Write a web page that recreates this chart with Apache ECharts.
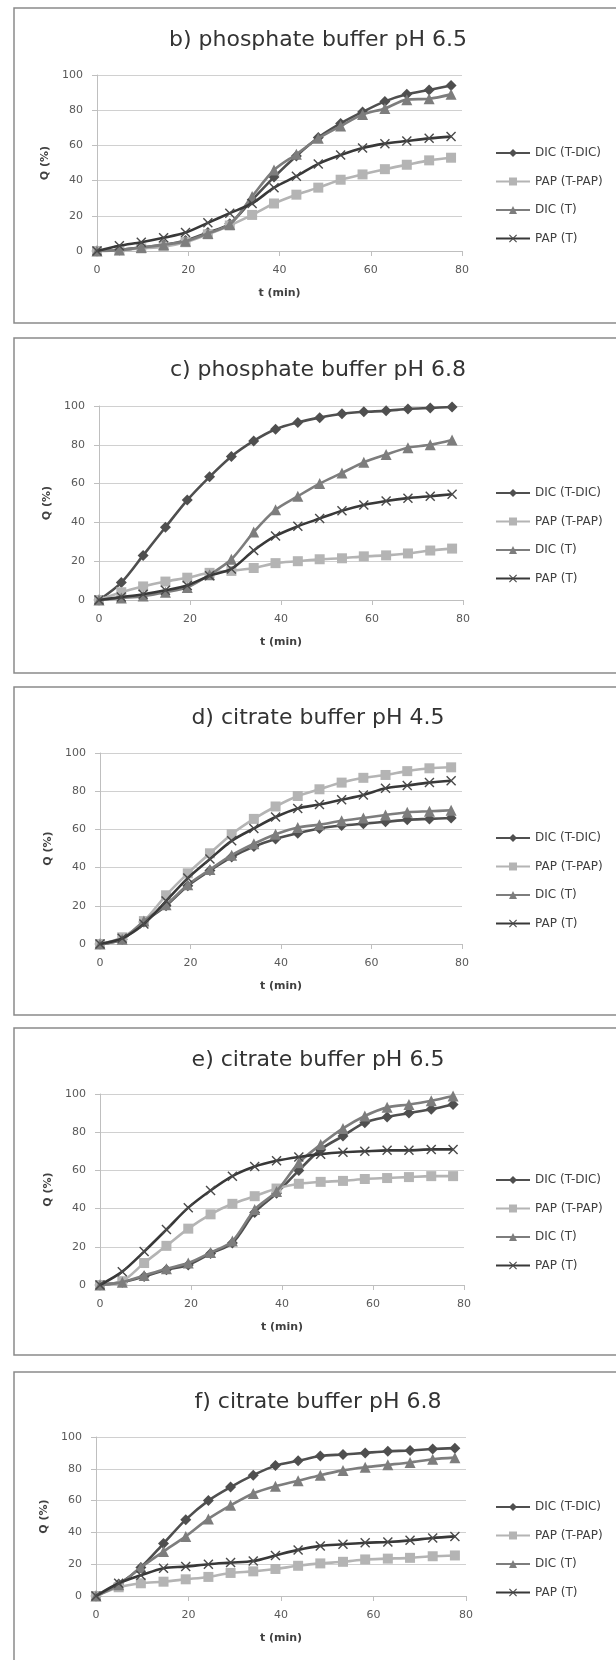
<!DOCTYPE html>
<html lang="en">
<head>
    <meta charset="UTF-8">
    <title>Dissolution profiles</title>
    <style>
        html, body { margin: 0; padding: 0; background: #fff; }
        #main { width: 616px; height: 1660px; }
    </style>
</head>
<body>

<div id="main"></div>

<script type="text/javascript" src="https://cdn.jsdelivr.net/npm/echarts@6/dist/echarts.min.js"></script>
<script type="text/javascript">

    // sampling times (min)
    var times = [0, 4.9, 9.7, 14.6, 19.4, 24.3, 29.1, 34, 38.8, 43.7, 48.5, 53.4, 58.2, 63.1, 67.9, 72.8, 77.6];

    var seriesNames = ['DIC (T-DIC)', 'PAP (T-PAP)', 'DIC (T)', 'PAP (T)'];
    var panelTitles = ['b) phosphate buffer pH 6.5', 'c) phosphate buffer pH 6.8', 'd) citrate buffer pH 4.5',
        'e) citrate buffer pH 6.5', 'f) citrate buffer pH 6.8'];
    var xTicks = [0, 20, 40, 60, 80];
    var yTicks = [0, 20, 40, 60, 80, 100];

    // b) phosphate buffer pH 6.5
    var bDicTDic = [0, 0.5, 2, 3.5, 6, 10.5, 15.5, 29, 42, 54, 64.5, 72.5, 79, 85, 89, 91.5, 94];
    var bPapTPap = [0, 0.5, 1.5, 2.5, 5, 9.5, 14.5, 20.5, 27, 32, 36, 40.5, 43.5, 46.5, 49, 51.5, 53];
    var bDicT    = [0, 0.5, 2, 3.5, 5.5, 10, 15, 31, 46, 55, 64, 71, 77.5, 81, 86, 86.5, 89];
    var bPapT    = [0, 3, 5, 7.5, 10.5, 16, 21.5, 27, 36, 42.5, 49.5, 54.5, 58.5, 61, 62.5, 64, 65];

    // c) phosphate buffer pH 6.8
    var cDicTDic = [0, 9, 23, 37.5, 51.5, 63.5, 74, 82, 88, 91.5, 94, 96, 97, 97.5, 98.5, 99, 99.5];
    var cPapTPap = [0, 4, 7, 9.5, 11.5, 14, 15, 16.5, 19, 20, 21, 21.5, 22.5, 23, 24, 25.5, 26.5];
    var cDicT    = [0, 1, 2, 4, 6.5, 13, 21, 35, 46.5, 53.5, 60, 65.5, 71, 75, 78.5, 80, 82.5];
    var cPapT    = [0, 1.5, 3, 5, 7.5, 12.5, 16, 25.5, 33, 38, 42, 46, 49, 51, 52.5, 53.5, 54.5];

    // d) citrate buffer pH 4.5
    var dDicTDic = [0, 2.5, 11.5, 20, 30.5, 38.5, 45.5, 51, 55, 58, 60.5, 62, 63, 64, 65, 65.5, 66];
    var dPapTPap = [0, 3.5, 12, 25.5, 37, 47.5, 57.5, 65.5, 72, 77.5, 81, 84.5, 87, 88.5, 90.5, 92, 92.5];
    var dDicT    = [0, 2.5, 12, 20.5, 31, 39, 46.5, 52.5, 57.5, 61, 62.5, 64.5, 66, 67.5, 69, 69.5, 70];
    var dPapT    = [0, 3, 10.5, 22.5, 34.5, 44.5, 54, 60.5, 66.5, 71, 73, 75.5, 78, 81.5, 83, 84.5, 85.5];

    // e) citrate buffer pH 6.5
    var eDicTDic = [0, 1.5, 4.5, 8, 10.5, 16.5, 22, 38, 48, 60, 71, 78, 85, 88, 90, 92, 94.5];
    var ePapTPap = [0, 2, 11.5, 20.5, 29.5, 37, 42.5, 46.5, 50.5, 53, 54, 54.5, 55.5, 56, 56.5, 57, 57];
    var eDicT    = [0, 1.5, 5, 8.5, 11.5, 17, 23, 39.5, 49, 64, 73.5, 82, 88.5, 93, 94.5, 96.5, 99];
    var ePapT    = [0, 7, 17.5, 29, 40.5, 49.5, 57, 62, 65, 67, 68.5, 69.5, 70, 70.5, 70.5, 71, 71];

    // f) citrate buffer pH 6.8
    var fDicTDic = [0, 7.5, 18, 33, 48, 60, 68.5, 76, 82, 85, 88, 89, 90, 91, 91.5, 92.5, 93];
    var fPapTPap = [0, 5.5, 8, 9, 10.5, 12, 14.5, 15.5, 17, 19, 20.5, 21.5, 23, 23.5, 24, 25, 25.5];
    var fDicT    = [0, 7, 18, 28, 37.5, 48.5, 57, 64.5, 69, 72.5, 76, 79, 81, 82.5, 84, 86, 87];
    var fPapT    = [0, 8, 13, 17.5, 18.5, 20, 21, 22, 25.5, 29, 31.5, 32.5, 33.5, 34, 35, 36.5, 37.5];

    var panelData = [
        [bDicTDic, bPapTPap, bDicT, bPapT],
        [cDicTDic, cPapTPap, cDicT, cPapT],
        [dDicTDic, dPapTPap, dDicT, dPapT],
        [eDicTDic, ePapTPap, eDicT, ePapT],
        [fDicTDic, fPapTPap, fDicT, fPapT]
    ];

    // where each panel sits on the page (px)
    var layout = [
        {boxTop: 8,    boxBottom: 323,  titleY: 40,   y100: 75,   y0: 251,  x0: 97,  x80: 462, legY: 148},
        {boxTop: 338,  boxBottom: 673,  titleY: 370,  y100: 406,  y0: 600,  x0: 99,  x80: 463, legY: 488},
        {boxTop: 687,  boxBottom: 1015, titleY: 718,  y100: 753,  y0: 944,  x0: 100, x80: 462, legY: 833},
        {boxTop: 1028, boxBottom: 1355, titleY: 1060, y100: 1094, y0: 1285, x0: 100, x80: 464, legY: 1175},
        {boxTop: 1372, boxBottom: 1700, titleY: 1402, y100: 1437, y0: 1596, x0: 96,  x80: 466, legY: 1502}
    ];

    var FONT = 'DejaVu Sans';
    var crossPath = 'path://M0,1L1,0L5,4L9,0L10,1L6,5L10,9L9,10L5,6L1,10L0,9L4,5Z';
    var looks = [
        {line: '#4f4f4f', mark: '#4f4f4f', symbol: 'diamond',  size: 11},
        {line: '#b4b4b4', mark: '#b4b4b4', symbol: 'rect',     size: 10},
        {line: '#7d7d7d', mark: '#7d7d7d', symbol: 'triangle', size: 11},
        {line: '#383838', mark: '#4a4a4a', symbol: crossPath,  size: 10}
    ];

    var grids = [], xAxes = [], yAxes = [], legends = [], series = [], graphics = [];

    for (var p = 0; p < layout.length; p++) {
        var L = layout[p];

        // chart-area frame and title
        graphics.push({
            type: 'rect', silent: true,
            shape: {x: 14, y: L.boxTop, width: 700, height: L.boxBottom - L.boxTop},
            style: {fill: 'none', stroke: '#8a8a8a', lineWidth: 1.5}
        });
        graphics.push({
            type: 'text', silent: true, x: 318, y: L.titleY,
            style: {text: panelTitles[p], align: 'center', verticalAlign: 'middle',
                fontFamily: FONT, fontSize: 22, fill: '#333'}
        });

        grids.push({left: L.x0, top: L.y100, width: L.x80 - L.x0, height: L.y0 - L.y100});

        xAxes.push({
            type: 'value', gridIndex: p, min: xTicks[0], max: xTicks[xTicks.length - 1],
            interval: xTicks[1] - xTicks[0],
            name: 't (min)', nameLocation: 'middle', nameGap: 37,
            nameTextStyle: {fontFamily: FONT, fontSize: 11, fontWeight: 'bold', color: '#404040'},
            axisLine: {show: true, onZero: false, lineStyle: {color: '#bfbfbf', width: 1}},
            axisTick: {show: true, length: 5, lineStyle: {color: '#bfbfbf'}},
            axisLabel: {margin: 14, fontFamily: FONT, fontSize: 11, color: '#595959'},
            splitLine: {show: false}
        });
        yAxes.push({
            type: 'value', gridIndex: p, min: yTicks[0], max: yTicks[yTicks.length - 1],
            interval: yTicks[1] - yTicks[0],
            name: 'Q (%)', nameLocation: 'middle', nameGap: 44, nameRotate: 90,
            nameTextStyle: {fontFamily: FONT, fontSize: 11, fontWeight: 'bold', color: '#404040'},
            axisLine: {show: true, lineStyle: {color: '#bfbfbf', width: 1}},
            axisTick: {show: true, length: 5, lineStyle: {color: '#bfbfbf'}},
            axisLabel: {margin: 14, fontFamily: FONT, fontSize: 11, color: '#595959'},
            splitLine: {show: true, lineStyle: {color: '#d0d0d0', width: 1}}
        });

        legends.push({
            orient: 'vertical', left: 490, top: L.legY - 7,
            itemWidth: 34, itemHeight: 10, itemGap: 14.5,
            textStyle: {fontFamily: FONT, fontSize: 12, color: '#404040', lineHeight: 14},
            selectedMode: false,
            data: seriesNames
        });

        for (var s = 0; s < seriesNames.length; s++) {
            var vals = panelData[p][s];
            var pts = [];
            for (var j = 0; j < times.length; j++) {
                pts.push([times[j], vals[j]]);
            }
            series.push({
                type: 'line', name: seriesNames[s],
                xAxisIndex: p, yAxisIndex: p,
                data: pts,
                smooth: 0.3,
                symbol: looks[s].symbol, symbolSize: looks[s].size,
                lineStyle: {color: looks[s].line, width: 2.6},
                itemStyle: {color: looks[s].mark},
                emphasis: {disabled: true},
                z: 2 + s
            });
        }
    }

    var chart = echarts.init(document.getElementById('main'));
    chart.setOption({
        animation: false,
        backgroundColor: '#fff',
        graphic: graphics,
        grid: grids,
        xAxis: xAxes,
        yAxis: yAxes,
        legend: legends,
        series: series
    });
</script>
</body>
</html>
